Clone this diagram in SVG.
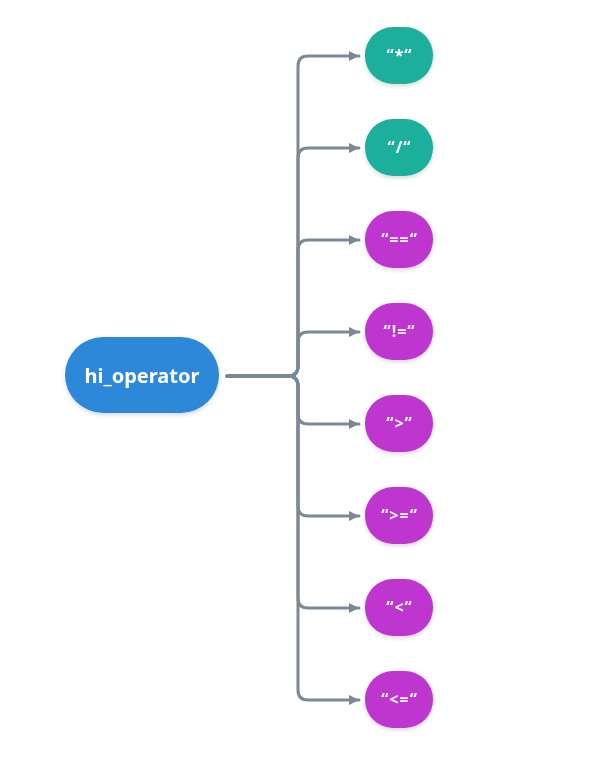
<svg xmlns="http://www.w3.org/2000/svg" width="594" height="771" viewBox="0 0 594 771">
<style>
.c{fill:none;stroke:#7b8895;stroke-width:3;stroke-linecap:round;stroke-linejoin:round}
.t{fill:#fff;font-family:"Noto Sans","Open Sans",sans-serif;font-weight:bold;text-anchor:middle;dominant-baseline:central}
.leaf{font-size:16px;letter-spacing:1px}
.teal{fill:#1aaf9c}
.pur{fill:#bf35cf}
</style>
<defs>
<marker id="a" markerUnits="userSpaceOnUse" markerWidth="14" markerHeight="14" viewBox="0 0 14 14" refX="11" refY="7" orient="auto">
<path d="M1 2 L11 7 L1 12 Z" fill="#7b8895"/>
</marker>
<filter id="s" x="-20%" y="-20%" width="140%" height="150%">
<feDropShadow dx="0" dy="2" stdDeviation="2" flood-color="#000" flood-opacity="0.15"/>
</filter>
</defs>
<g id="connectors">
<path class="c" marker-end="url(#a)" d="M227 376 H288 Q298 376 298 366 V66 Q298 56 308 56 H359"/>
<path class="c" marker-end="url(#a)" d="M227 376 H288 Q298 376 298 366 V158 Q298 148 308 148 H359"/>
<path class="c" marker-end="url(#a)" d="M227 376 H288 Q298 376 298 366 V250 Q298 240 308 240 H359"/>
<path class="c" marker-end="url(#a)" d="M227 376 H288 Q298 376 298 366 V342 Q298 332 308 332 H359"/>
<path class="c" marker-end="url(#a)" d="M227 376 H288 Q298 376 298 386 V414 Q298 424 308 424 H359"/>
<path class="c" marker-end="url(#a)" d="M227 376 H288 Q298 376 298 386 V506 Q298 516 308 516 H359"/>
<path class="c" marker-end="url(#a)" d="M227 376 H288 Q298 376 298 386 V598 Q298 608 308 608 H359"/>
<path class="c" marker-end="url(#a)" d="M227 376 H288 Q298 376 298 386 V690 Q298 700 308 700 H359"/>
</g>
<g id="root" filter="url(#s)">
<rect x="65" y="337" width="154" height="76" rx="38" fill="#2e88d9"/>
<text class="t" x="142" y="375" font-size="20">hi_operator</text>
</g>
<g id="n1" filter="url(#s)"><rect class="teal" x="365" y="27" width="68" height="57" rx="28"/><text class="t leaf" x="399.5" y="55">“*“</text></g>
<g id="n2" filter="url(#s)"><rect class="teal" x="365" y="119" width="68" height="57" rx="28"/><text class="t leaf" x="399.5" y="147">“/“</text></g>
<g id="n3" filter="url(#s)"><rect class="pur" x="365" y="211" width="68" height="57" rx="28"/><text class="t leaf" x="399.5" y="239">“==“</text></g>
<g id="n4" filter="url(#s)"><rect class="pur" x="365" y="303" width="68" height="57" rx="28"/><text class="t leaf" x="399.5" y="331">“!=“</text></g>
<g id="n5" filter="url(#s)"><rect class="pur" x="365" y="395" width="68" height="57" rx="28"/><text class="t leaf" x="399.5" y="423">“&gt;“</text></g>
<g id="n6" filter="url(#s)"><rect class="pur" x="365" y="487" width="68" height="57" rx="28"/><text class="t leaf" x="399.5" y="515">“&gt;=“</text></g>
<g id="n7" filter="url(#s)"><rect class="pur" x="365" y="579" width="68" height="57" rx="28"/><text class="t leaf" x="399.5" y="607">“&lt;“</text></g>
<g id="n8" filter="url(#s)"><rect class="pur" x="365" y="671" width="68" height="57" rx="28"/><text class="t leaf" x="399.5" y="699">“&lt;=“</text></g>
</svg>
